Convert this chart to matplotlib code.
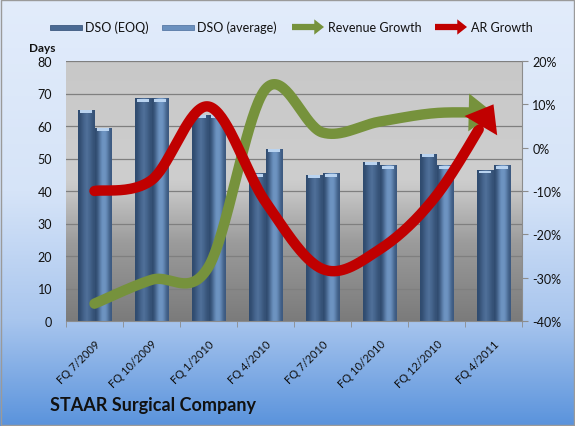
import numpy as np
import matplotlib
matplotlib.use("Agg")
import matplotlib.pyplot as plt
from matplotlib.colors import LinearSegmentedColormap
from matplotlib.patches import FancyArrowPatch, Rectangle
from matplotlib.ticker import FuncFormatter, MultipleLocator

plt.rcParams['font.family'] = ['Lato', 'DejaVu Sans']

# ---- data ----
quarters = ["FQ 7/2009", "FQ 10/2009", "FQ 1/2010", "FQ 4/2010",
            "FQ 7/2010", "FQ 10/2010", "FQ 12/2010", "FQ 4/2011"]
dso_eoq = [65, 68.5, 63.5, 45.5, 45, 49, 51.5, 46.5]
dso_avg = [59.5, 68.5, 63.5, 53, 45.5, 48, 48, 48]
revenue_growth = [-36, -30.5, -27.5, 13.5, 3.5, 6, 8, 8]
ar_growth = [-10, -7.5, 9.5, -12.5, -28, -23.5, -11, 10]

EOQ_COL = "#4a6a93"
AVG_COL = "#6b91bf"
GREEN = "#76923c"
RED = "#c00000"


def smooth(xs, ys, n=40):
    # excel-like bezier smoothing through the points
    p = np.column_stack([xs, ys]).astype(float)
    pe = np.vstack([p[0], p, p[-1]])
    out = []
    for i in range(len(p) - 1):
        p0, p1 = pe[i + 1], pe[i + 2]
        c1 = p0 + (pe[i + 2] - pe[i]) / 6
        c2 = p1 - (pe[i + 3] - pe[i + 1]) / 6
        t = np.linspace(0, 1, n)[:, None]
        seg = ((1 - t) ** 3) * p0 + 3 * ((1 - t) ** 2) * t * c1 + 3 * (1 - t) * t ** 2 * c2 + t ** 3 * p1
        out.append(seg if i == 0 else seg[1:])
    s = np.vstack(out)
    return s[:, 0], s[:, 1]


W, H = 575, 427
fig = plt.figure(figsize=(W / 100, H / 100), dpi=100)

# figure background gradient
bg = fig.add_axes([0, 0, 1, 1], zorder=-10)
bg_cmap = LinearSegmentedColormap.from_list(
    "bg", [(0, "#5a93dc"), (0.25, "#a9c6ee"), (0.55, "#d6e4f8"), (1, "#e2ecfb")])
bg.imshow(np.linspace(0, 1, 256)[:, None], aspect="auto", cmap=bg_cmap,
          origin="lower", extent=(0, 1, 0, 1))
bg.set_xlim(0, 1)
bg.set_ylim(0, 1)
bg.axis("off")
bg.add_patch(Rectangle((0.001, 0.002), 0.997, 0.996, fill=False,
                       edgecolor="#9a9a9a", lw=1))

ax = fig.add_axes([66 / W, 1 - 322 / H, 456 / W, 260 / H])
ax.patch.set_alpha(0)
pa_cmap = LinearSegmentedColormap.from_list(
    "pa", [(0, "#7b7b7b"), (0.3, "#9b9b9b"), (0.5, "#c6c6c6"),
           (0.55, "#cecece"), (1, "#c8c8c8")])
ax.imshow(np.linspace(0, 1, 256)[:, None], aspect="auto", cmap=pa_cmap,
          origin="lower", extent=(0, 1, 0, 1), transform=ax.transAxes, zorder=0)

x = np.arange(len(quarters))
bw = 0.285
bars1 = ax.bar(x - bw / 2 - 0.01, dso_eoq, bw, color=EOQ_COL, edgecolor="#3d5a80",
               lw=0.6, zorder=2)
bars2 = ax.bar(x + bw / 2 + 0.01, dso_avg, bw, color=AVG_COL, edgecolor="#587aa6",
               lw=0.6, zorder=2)

# cylinder shading on each bar
shade = np.array([[0.0, 0.35, 0.6, 0.45, 0.1]])
for bars, base in ((bars1, EOQ_COL), (bars2, AVG_COL)):
    cm = LinearSegmentedColormap.from_list("b", ["#2f4a6e", base, "#8fb0d8"])
    for b in bars:
        x0, w, h = b.get_x(), b.get_width(), b.get_height()
        im = ax.imshow(shade, aspect="auto", cmap=cm, vmin=0, vmax=1,
                       extent=(x0, x0 + w, 0, h), zorder=2.1, interpolation="bicubic")
        im.set_clip_path(b)
        ax.add_patch(Rectangle((x0 + w * 0.12, h - 1.1), w * 0.76, 0.9,
                               color="#b9d3f0", zorder=2.2, lw=0))

ax.set_xlim(-0.5, len(quarters) - 0.5)
ax.set_ylim(0, 80)
ax.yaxis.set_major_locator(MultipleLocator(10))
ax.grid(axis="y", color="#7f7f7f", lw=0.9, zorder=1)
ax.set_axisbelow(True)
for s in ("top", "left", "right"):
    ax.spines[s].set_visible(False)
ax.spines["bottom"].set_color("#8c8c8c")
ax.tick_params(axis="y", length=0, labelsize=9, pad=10, labelcolor="#111111")
ax.set_xticks(x)
ax.set_xticklabels(quarters, rotation=45, ha="right", rotation_mode="anchor",
                   fontsize=8, color="#111111")
ax.set_xticks(np.arange(-0.5, len(quarters)), minor=True)
ax.tick_params(axis="x", which="major", length=0, pad=12)
ax.tick_params(axis="x", which="minor", length=4, color="#8c8c8c")

ax2 = ax.twinx()
ax2.set_ylim(-40, 20)
ax2.yaxis.set_major_locator(MultipleLocator(10))
ax2.yaxis.set_major_formatter(FuncFormatter(lambda v, p: f"{v:.0f}%"))
for s in ("top", "left", "bottom"):
    ax2.spines[s].set_visible(False)
ax2.spines["right"].set_color("#8c8c8c")
ax2.tick_params(axis="y", length=4, color="#8c8c8c", labelsize=9, labelcolor="#111111")

for vals, col in ((revenue_growth, GREEN), (ar_growth, RED)):
    sx, sy = smooth(x, vals)
    cut = len(sx) - 14
    ax2.plot(sx[:cut + 1], sy[:cut + 1], color=col, lw=7.5, solid_capstyle="round",
             zorder=5)
    ax2.annotate("", xy=(sx[-1], sy[-1]), xytext=(sx[cut - 3], sy[cut - 3]),
                 arrowprops=dict(arrowstyle="-|>,head_length=0.85,head_width=0.65",
                                 color=col, lw=0, mutation_scale=21,
                                 shrinkA=0, shrinkB=0), zorder=6)

# legend
def fx(px):
    return px / W


def fy(py):
    return 1 - py / H


leg_y = 28
fig.add_artist(Rectangle((fx(50), fy(leg_y + 2.5)), fx(32), 5 / H,
                         facecolor=EOQ_COL, edgecolor="#3d5a80", lw=0.6))
fig.text(fx(85), fy(leg_y), "DSO (EOQ)", fontsize=9, va="center", color="#111111")
fig.add_artist(Rectangle((fx(162), fy(leg_y + 2.5)), fx(32), 5 / H,
                         facecolor=AVG_COL, edgecolor="#587aa6", lw=0.6))
fig.text(fx(197), fy(leg_y), "DSO (average)", fontsize=9, va="center", color="#111111")
for x0, col, lab in ((292, GREEN, "Revenue Growth"), (435, RED, "AR Growth")):
    fig.add_artist(FancyArrowPatch((fx(x0), fy(leg_y)), (fx(x0 + 32), fy(leg_y)),
                                   transform=fig.transFigure, color=col,
                                   arrowstyle="simple,head_length=0.7,head_width=1.1,tail_width=0.45",
                                   mutation_scale=10, lw=0, shrinkA=0, shrinkB=0))
    fig.text(fx(x0 + 36), fy(leg_y), lab, fontsize=9, va="center", color="#111111")

fig.text(fx(29), fy(48), "Days", fontsize=8.5, fontweight="bold", va="center",
         color="#111111")
fig.text(fx(50), fy(406), "STAAR Surgical Company", fontsize=13, fontweight="bold",
         va="center", color="#111111")

fig.savefig("out.png", dpi=100)
